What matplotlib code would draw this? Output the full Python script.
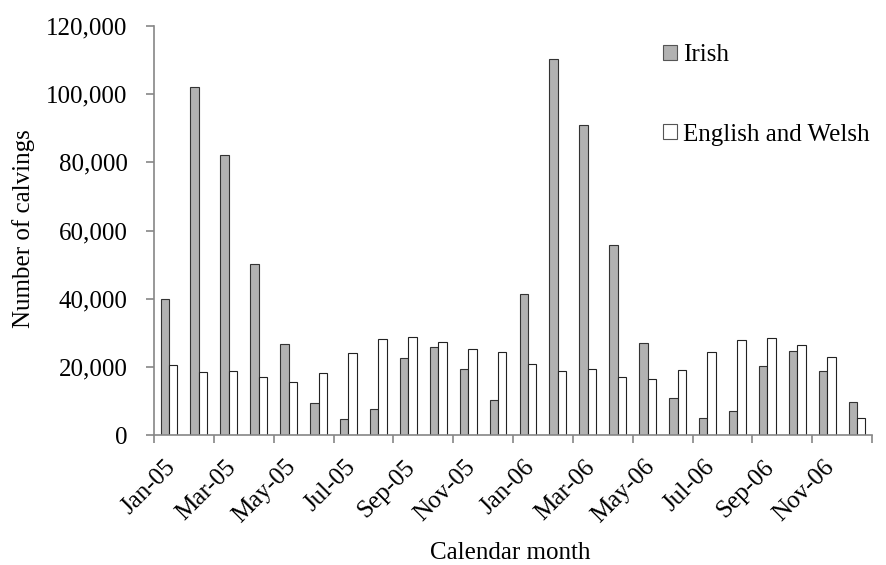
import matplotlib
matplotlib.use("Agg")
import matplotlib.pyplot as plt
import matplotlib.transforms as mtrans
from matplotlib.patches import Rectangle
from matplotlib.ticker import FuncFormatter
import numpy as np

months = ["Jan-05", "Feb-05", "Mar-05", "Apr-05", "May-05", "Jun-05",
          "Jul-05", "Aug-05", "Sep-05", "Oct-05", "Nov-05", "Dec-05",
          "Jan-06", "Feb-06", "Mar-06", "Apr-06", "May-06", "Jun-06",
          "Jul-06", "Aug-06", "Sep-06", "Oct-06", "Nov-06", "Dec-06"]

irish = [39900, 102000, 82100, 50100, 26700, 9400, 4700, 7600, 22600, 25800, 19500, 10300,
         41300, 110200, 90900, 55600, 27000, 10900, 5000, 7000, 20200, 24600, 18800, 9700]

english_welsh = [20500, 18500, 18800, 16900, 15500, 18200, 24000, 28200, 28700, 27400, 25200, 24300,
                 20800, 18800, 19400, 17000, 16400, 19100, 24300, 27900, 28600, 26300, 22800, 5000]

plt.rcParams['font.family'] = ['Liberation Serif', 'DejaVu Serif']
fs = 18
irish_col = "#b2b2b2"
axis_col = "#868686"

fig = plt.figure(figsize=(8.86, 5.65), dpi=100)
ax = fig.add_axes([154 / 886, 1 - 435 / 565, (872 - 154) / 886, (435 - 26) / 565])

x = np.arange(len(months))
w = 0.28
ax.bar(x - w / 2, irish, width=w, color=irish_col, edgecolor="#333333", linewidth=0.8, label="Irish")
ax.bar(x + w / 2, english_welsh, width=w, color="white", edgecolor="#222222", linewidth=0.8,
       label="English and Welsh")

ax.set_xlim(-0.5, len(months) - 0.5)
ax.set_ylim(0, 120000)
ax.set_yticks(np.arange(0, 120001, 20000))
ax.yaxis.set_major_formatter(FuncFormatter(lambda v, p: f"{int(v):,}"))

# labels on every other month, tick marks on the category boundaries
ax.set_xticks(x[::2])
ax.set_xticklabels(months[::2], rotation=45, ha="right", rotation_mode="anchor")
ax.set_xticks(np.arange(-0.5, len(months), 2), minor=True)
ax.tick_params(axis="x", which="major", length=0, pad=15, labelsize=fs)
ax.tick_params(axis="x", which="minor", length=6, width=1.2, color=axis_col)
ax.tick_params(axis="y", length=6, width=1.2, color=axis_col, pad=13, labelsize=fs)
shift = mtrans.ScaledTranslation(-4 / 100, 0, fig.dpi_scale_trans)
for lab in ax.get_xticklabels():
    lab.set_transform(lab.get_transform() + shift)

for s in ["top", "right"]:
    ax.spines[s].set_visible(False)
for s in ["left", "bottom"]:
    ax.spines[s].set_color(axis_col)
    ax.spines[s].set_linewidth(1.2)

fig.text(24 / 886, 1 - 229 / 565, "Number of calvings", rotation=90, ha="center", va="center", fontsize=fs)
fig.text(510 / 886, 1 - 559 / 565, "Calendar month", ha="center", va="baseline", fontsize=fs)

handles = [Rectangle((0, 0), 1, 1, facecolor=irish_col, edgecolor="#555555", linewidth=0.8),
           Rectangle((0, 0), 1, 1, facecolor="white", edgecolor="#555555", linewidth=0.8)]
fig.legend(handles, ["Irish", "English and Welsh"], loc="upper left",
           bbox_to_anchor=(663 / 886, 1 - 44 / 565), frameon=False, fontsize=fs,
           handlelength=0.55, handleheight=0.55, handletextpad=0.25,
           labelspacing=2.3, borderpad=0, borderaxespad=0)

fig.savefig("out.png", dpi=100)
